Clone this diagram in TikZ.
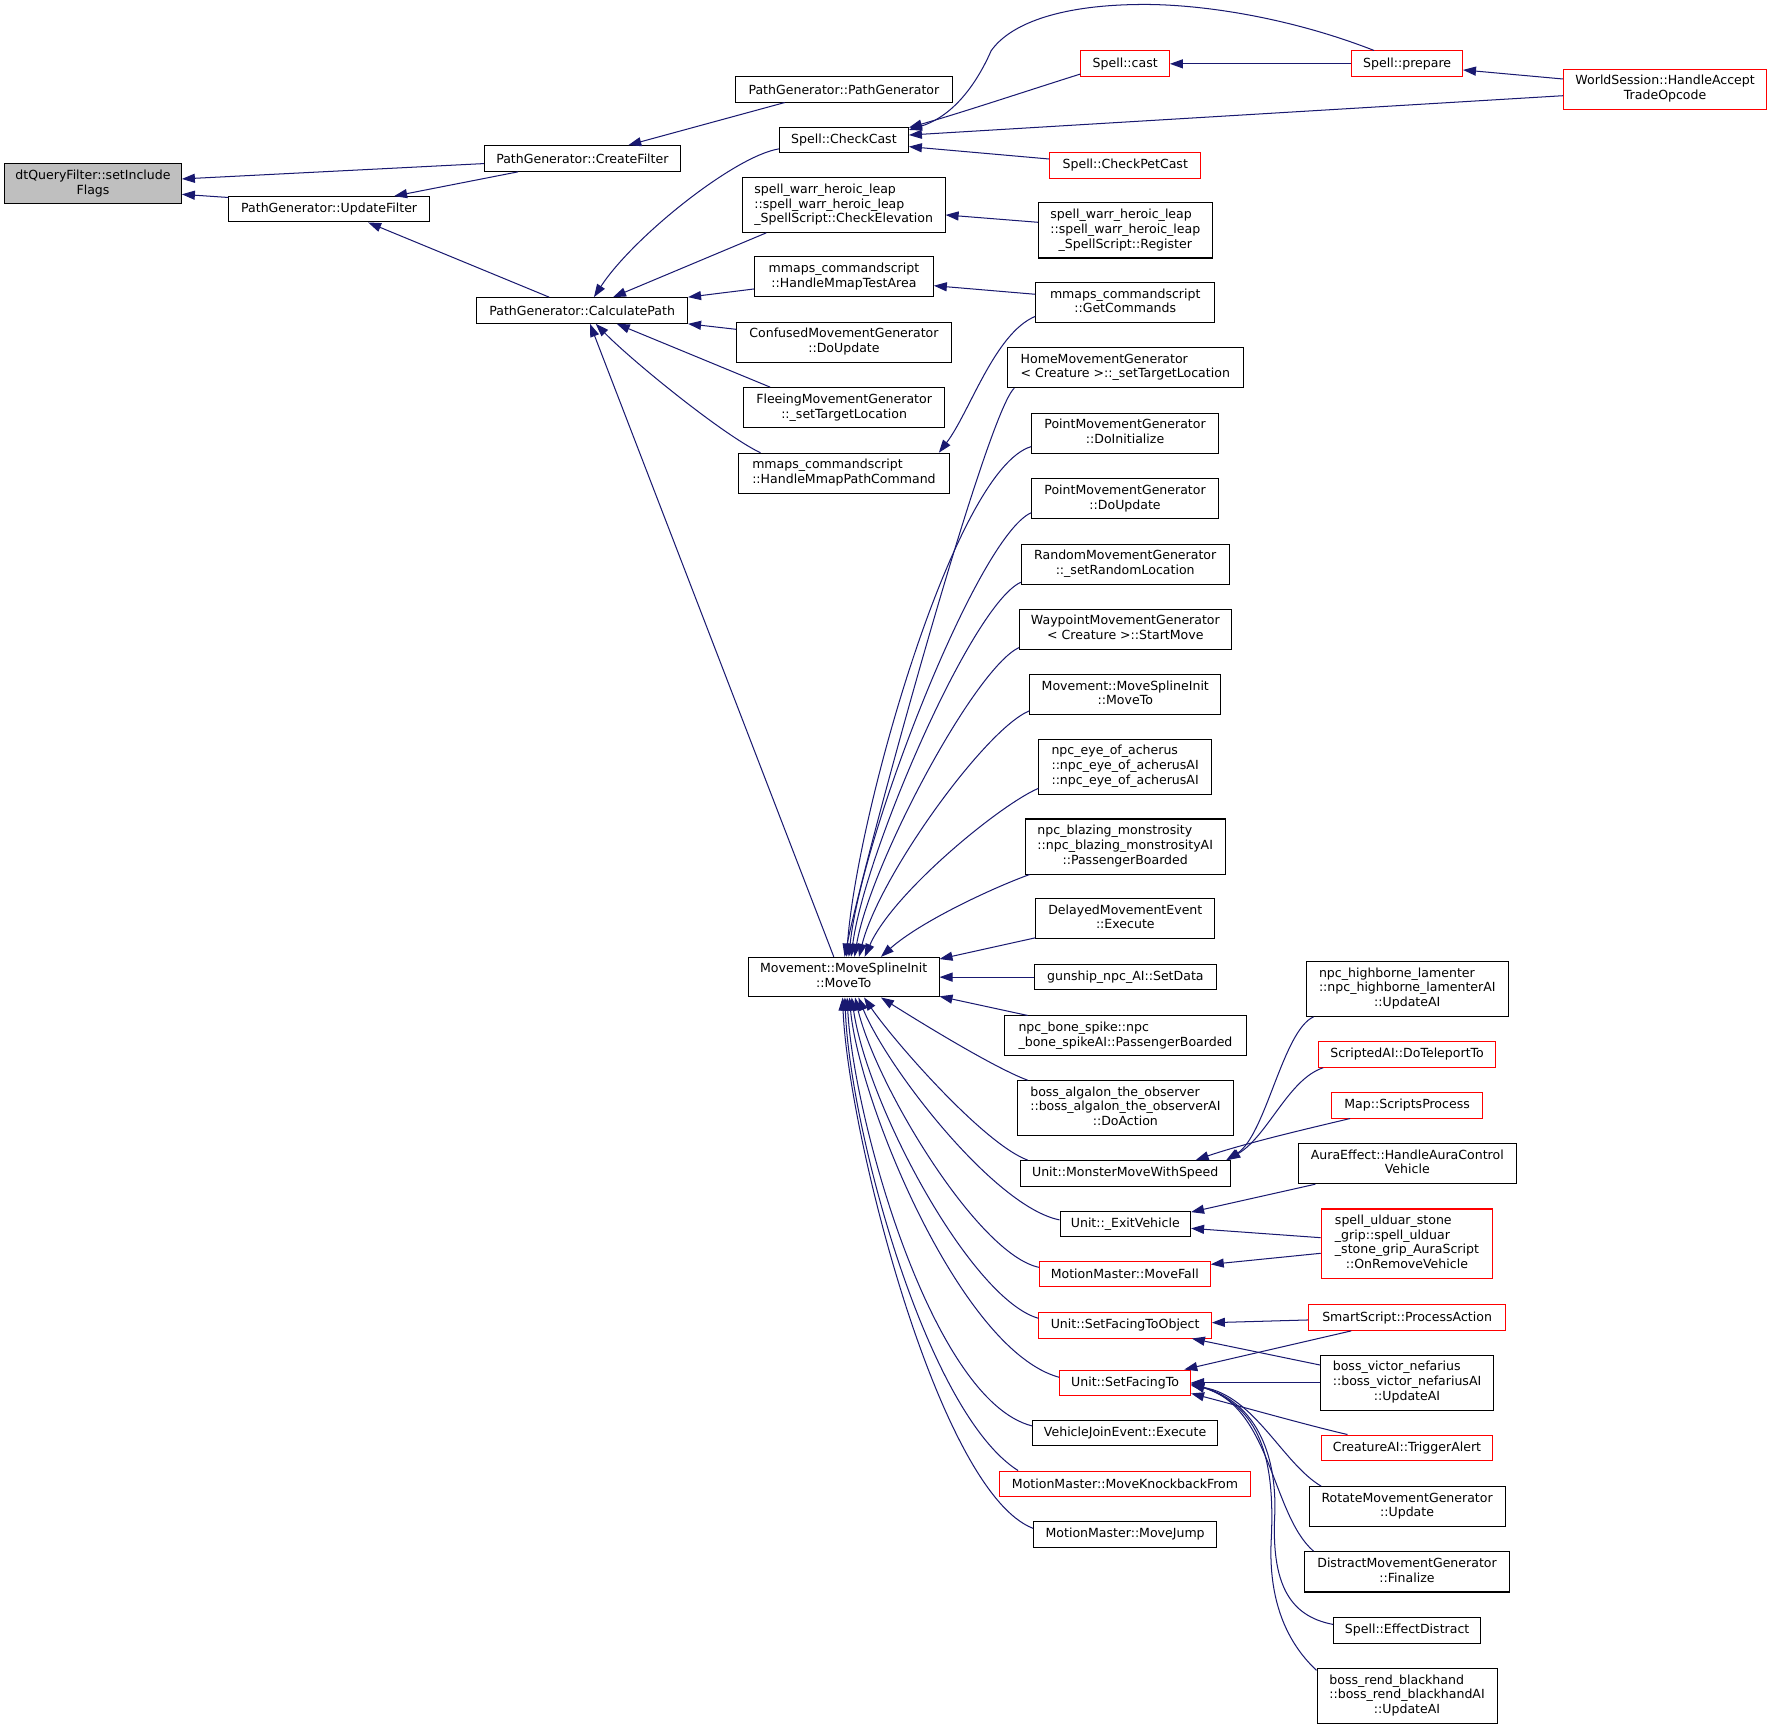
\documentclass[tikz,border=0pt]{standalone}
\usepackage{fontspec}
\setmainfont{DejaVu Sans}
\usetikzlibrary{arrows.meta,calc}
\definecolor{edgecol}{HTML}{191970}
\newcommand{\mlbox}[1]{\begin{tabular}{@{}l@{}}#1\end{tabular}}
\newcommand{\lastc}[1]{\multicolumn{1}{@{}c@{}}{#1}}
\tikzset{
 box/.style={draw=black, line width=0.9pt, fill=white, inner sep=0pt, font=\fontsize{11.1}{13}\selectfont},
 rbox/.style={box, draw=red},
 cedge/.style={draw=edgecol, line width=0.9pt, -{Triangle[length=11.5pt,width=8pt]}},
}
\begin{document}
\begin{tikzpicture}[x=1pt,y=-1pt]
\fill[white] (0,0) rectangle (1568,1530);
\useasboundingbox (0,0) rectangle (1568,1530);
% column 1
\node[box,fill=black!25,minimum width=156.4pt,minimum height=35.7pt] (dtq) at (82.3,162.65) {\mlbox{dtQueryFilter::setInclude\\\lastc{Flags}}};
\node[box,minimum width=177.5pt,minimum height=22.4pt] (updateF) at (291.25,185.2) {PathGenerator::UpdateFilter};
\node[box,minimum width=173.3pt,minimum height=22.7pt] (createF) at (515.35,140.25) {PathGenerator::CreateFilter};
\node[box,minimum width=186.5pt,minimum height=22.7pt] (calc) at (515.15,274.75) {PathGenerator::CalculatePath};
% column 2
\node[box,minimum width=191.3pt,minimum height=22.4pt] (pgpg) at (746.75,79.1) {PathGenerator::PathGenerator};
\node[box,minimum width=114.1pt,minimum height=22.7pt] (checkcast) at (746.75,123.75) {Spell::CheckCast};
\node[box,minimum width=179.5pt,minimum height=48.1pt] (elev) at (746.55,181.55) {\mlbox{spell\_warr\_heroic\_leap\\::spell\_warr\_heroic\_leap\\\lastc{\_SpellScript::CheckElevation}}};
\node[box,minimum width=158.2pt,minimum height=35.4pt] (testarea) at (746.8,245.1) {\mlbox{mmaps\_commandscript\\\lastc{::HandleMmapTestArea}}};
\node[box,minimum width=190pt,minimum height=35.4pt] (confused) at (746.8,302.9) {\mlbox{ConfusedMovementGenerator\\\lastc{::DoUpdate}}};
\node[box,minimum width=177.5pt,minimum height=35.7pt] (fleeing) at (746.95,360.85) {\mlbox{FleeingMovementGenerator\\\lastc{::\_setTargetLocation}}};
\node[box,minimum width=186.6pt,minimum height=35.2pt] (pathcmd) at (746.8,418.7) {\mlbox{mmaps\_commandscript\\\lastc{::HandleMmapPathCommand}}};
\node[box,minimum width=168.6pt,minimum height=35.1pt] (mvto) at (746.6,864.65) {\mlbox{Movement::MoveSplineInit\\\lastc{::MoveTo}}};
% column 3
\node[rbox,minimum width=78.3pt,minimum height=22.8pt] (cast) at (995.65,56.5) {Spell::cast};
\node[rbox,minimum width=133.8pt,minimum height=22.7pt] (petcast) at (995.7,146.45) {Spell::CheckPetCast};
\node[box,minimum width=153.7pt,minimum height=48.7pt] (register) at (995.75,203.95) {\mlbox{spell\_warr\_heroic\_leap\\::spell\_warr\_heroic\_leap\\\lastc{\_SpellScript::Register}}};
\node[box,minimum width=158.4pt,minimum height=35.4pt] (getcmd) at (995.7,267.8) {\mlbox{mmaps\_commandscript\\\lastc{::GetCommands}}};
\node[box,minimum width=209.1pt,minimum height=35.4pt] (home) at (995.75,325.3) {\mlbox{HomeMovementGenerator\\\lastc{< Creature >::\_setTargetLocation}}};
\node[box,minimum width=165.3pt,minimum height=35.4pt] (ptinit) at (995.55,383.4) {\mlbox{PointMovementGenerator\\\lastc{::DoInitialize}}};
\node[box,minimum width=165.3pt,minimum height=35.4pt] (ptupd) at (995.55,441.3) {\mlbox{PointMovementGenerator\\\lastc{::DoUpdate}}};
\node[box,minimum width=183.9pt,minimum height=35.4pt] (random) at (995.65,499.1) {\mlbox{RandomMovementGenerator\\\lastc{::\_setRandomLocation}}};
\node[box,minimum width=187.6pt,minimum height=35.4pt] (waypoint) at (995.8,556.9) {\mlbox{WaypointMovementGenerator\\\lastc{< Creature >::StartMove}}};
\node[box,minimum width=169.1pt,minimum height=35.1pt] (mvtob) at (995.75,614.55) {\mlbox{Movement::MoveSplineInit\\\lastc{::MoveTo}}};
\node[box,minimum width=152.6pt,minimum height=48.4pt] (eye) at (995.6,678.4) {\mlbox{npc\_eye\_of\_acherus\\::npc\_eye\_of\_acherusAI\\\lastc{::npc\_eye\_of\_acherusAI}}};
\node[box,minimum width=177.1pt,minimum height=48.7pt] (blazing) at (995.65,749.05) {\mlbox{npc\_blazing\_monstrosity\\::npc\_blazing\_monstrosityAI\\\lastc{::PassengerBoarded}}};
\node[box,minimum width=158.3pt,minimum height=35.7pt] (delayed) at (995.75,812.75) {\mlbox{DelayedMovementEvent\\\lastc{::Execute}}};
\node[box,minimum width=161.6pt,minimum height=22.7pt] (gunship) at (995.8,864.65) {gunship\_npc\_AI::SetData};
\node[box,minimum width=213.4pt,minimum height=35.4pt] (bonespike) at (995.9,916.7) {\mlbox{npc\_bone\_spike::npc\\\lastc{\_bone\_spikeAI::PassengerBoarded}}};
\node[box,minimum width=190.8pt,minimum height=48.3pt] (algalon) at (995.8,980.45) {\mlbox{boss\_algalon\_the\_observer\\::boss\_algalon\_the\_observerAI\\\lastc{::DoAction}}};
\node[box,minimum width=185.9pt,minimum height=22.5pt] (monster) at (995.65,1038.25) {Unit::MonsterMoveWithSpeed};
\node[box,minimum width=115.5pt,minimum height=22.7pt] (exitveh) at (995.75,1082.95) {Unit::\_ExitVehicle};
\node[rbox,minimum width=151.2pt,minimum height=22.4pt] (movefall) at (995.3,1127.6) {MotionMaster::MoveFall};
\node[rbox,minimum width=152.6pt,minimum height=22.5pt] (facingobj) at (995.6,1172.75) {Unit::SetFacingToObject};
\node[rbox,minimum width=115.9pt,minimum height=22.4pt] (facingto) at (995.55,1223.5) {Unit::SetFacingTo};
\node[box,minimum width=163.3pt,minimum height=22.7pt] (vehjoin) at (995.55,1268.15) {VehicleJoinEvent::Execute};
\node[rbox,minimum width=222.2pt,minimum height=22.7pt] (knockback) at (995.5,1313.05) {MotionMaster::MoveKnockbackFrom};
\node[box,minimum width=162pt,minimum height=22.4pt] (movejump) at (995.6,1357.7) {MotionMaster::MoveJump};
% column 4
\node[rbox,minimum width=97.9pt,minimum height=22.8pt] (prepare) at (1245.15,56.5) {Spell::prepare};
\node[box,minimum width=178.3pt,minimum height=48.3pt] (highborne) at (1245.25,875.15) {\mlbox{npc\_highborne\_lamenter\\::npc\_highborne\_lamenterAI\\\lastc{::UpdateAI}}};
\node[rbox,minimum width=156pt,minimum height=22.6pt] (teleport) at (1245.1,933.1) {ScriptedAI::DoTeleportTo};
\node[rbox,minimum width=134pt,minimum height=22.7pt] (scriptsproc) at (1245.1,977.95) {Map::ScriptsProcess};
\node[box,minimum width=192.5pt,minimum height=35.4pt] (auraeffect) at (1245.25,1029.7) {\mlbox{AuraEffect::HandleAuraControl\\\lastc{Vehicle}}};
\node[rbox,minimum width=151.7pt,minimum height=61.3pt] (ulduar) at (1244.95,1100.45) {\mlbox{spell\_ulduar\_stone\\\_grip::spell\_ulduar\\\_stone\_grip\_AuraScript\\\lastc{::OnRemoveVehicle}}};
\node[rbox,minimum width=174.6pt,minimum height=22.7pt] (smartscript) at (1245.1,1165.85) {SmartScript::ProcessAction};
\node[box,minimum width=152.7pt,minimum height=48.4pt] (victor) at (1245.05,1223.5) {\mlbox{boss\_victor\_nefarius\\::boss\_victor\_nefariusAI\\\lastc{::UpdateAI}}};
\node[rbox,minimum width=151.7pt,minimum height=22.7pt] (trigger) at (1244.95,1281.15) {CreatureAI::TriggerAlert};
\node[box,minimum width=173.4pt,minimum height=35.4pt] (rotate) at (1245.1,1333.2) {\mlbox{RotateMovementGenerator\\\lastc{::Update}}};
\node[box,minimum width=182.1pt,minimum height=35.7pt] (distract) at (1245.05,1390.85) {\mlbox{DistractMovementGenerator\\\lastc{::Finalize}}};
\node[box,minimum width=130pt,minimum height=22.5pt] (effdistract) at (1245.1,1442.65) {Spell::EffectDistract};
\node[box,minimum width=159.3pt,minimum height=48.5pt] (rend) at (1245.05,1500.75) {\mlbox{boss\_rend\_blackhand\\::boss\_rend\_blackhandAI\\\lastc{::UpdateAI}}};
% column 5
\node[rbox,minimum width=179.8pt,minimum height=35.4pt] (worldsession) at (1473.4,78.8) {\mlbox{WorldSession::HandleAccept\\\lastc{TradeOpcode}}};

% edges, left part
\draw[cedge] ($(createF.west)+(0,4.5)$) -- ($(dtq.east)+(0,-4.3)$);
\draw[cedge] ($(updateF.north west)+(0,1.2)$) -- ($(dtq.east)+(0,9.3)$);
\draw[cedge] ($(pgpg.south west)+(43.7,0)$) -- ($(createF.north)+(40.6,0)$);
\draw[cedge] ($(createF.south west)+(30.2,0)$) -- ($(updateF.north)+(57.5,0)$);
\draw[cedge] ($(calc.north)+(-29.2,0)$) -- ($(updateF.south)+(34.5,0)$);
\draw[cedge] ($(checkcast.west)+(0,8)$) .. controls (650,138) and (560,210) .. ($(calc.north)+(10.4,0)$);
\draw[cedge] ($(elev.south west)+(21.7,0)$) -- ($(calc.north)+(27.3,0)$);
\draw[cedge] ($(testarea.west)+(0,10.6)$) -- (calc.north east);
\draw[cedge] ($(confused.west)+(0,-11.5)$) -- (calc.south east);
\draw[cedge] ($(fleeing.north west)+(23.7,0)$) -- ($(calc.south)+(30.6,0)$);
\draw[cedge] ($(pathcmd.north west)+(19.9,0)$) .. controls (640,385) and (560,320) .. ($(calc.south)+(12,0)$);
\draw[cedge] ($(mvto.north)+(-8.8,0)$) -- ($(calc.south)+(6.9,0)$);
% spell edges
\draw[cedge] ($(cast.west)+(0,9)$) .. controls (910,80) and (850,100) .. ($(checkcast.north east)+(0,1)$);
\draw[cedge] ($(prepare.north west)+(20.1,0)$) .. controls (1140,15) and (1060,3) .. (1006,4) .. controls (935,5) and (893,22) .. (877,45) .. controls (866,70) and (846,102) .. ($(checkcast.east)+(0,-8.75)$);
\draw[cedge] (prepare.west) -- (cast.east);
\draw[cedge] ($(worldsession.west)+(0,-8.9)$) -- ($(prepare.east)+(0,5.4)$);
\draw[cedge] ($(worldsession.west)+(0,5.9)$) -- ($(checkcast.east)+(0,-4.25)$);
\draw[cedge] ($(petcast.west)+(0,-5.75)$) -- ($(checkcast.east)+(0,6)$);
\draw[cedge] ($(register.west)+(0,-7.25)$) -- ($(elev.east)+(0,8.65)$);
\draw[cedge] ($(getcmd.west)+(0,-7.4)$) -- ($(testarea.east)+(0,7.7)$);
\draw[cedge] ($(getcmd.south west)+(0,-6)$) .. controls (880,295) and (858,365) .. ($(pathcmd.north east)+(-9.8,0)$);
% into MoveSplineInit from above
\draw[cedge] ($(home.south west)+(6.8,0)$) .. controls (873,365) and (765,760) .. ($(mvto.north)+(0.7,0)$);
\draw[cedge] ($(ptinit.west)+(0,11.8)$) .. controls (845,415) and (758,720) .. ($(mvto.north)+(2.5,0)$);
\draw[cedge] ($(ptupd.west)+(0,12.4)$) .. controls (865,475) and (762,740) .. ($(mvto.north)+(4.5,0)$);
\draw[cedge] ($(random.south west)+(0,-2)$) .. controls (860,535) and (765,755) .. ($(mvto.north)+(6.5,0)$);
\draw[cedge] ($(waypoint.south west)+(0,-2)$) .. controls (862,592) and (770,765) .. ($(mvto.north)+(9.5,0)$);
\draw[cedge] ($(mvtob.west)+(0,14.5)$) .. controls (872,645) and (778,775) .. ($(mvto.north)+(13.5,0)$);
\draw[cedge] ($(eye.west)+(0,19.2)$) .. controls (885,712) and (790,790) .. ($(mvto.north)+(18.5,0)$);
\draw[cedge] ($(blazing.south west)+(4.4,0)$) .. controls (880,785) and (815,815) .. ($(mvto.north)+(32.9,0)$);
\draw[cedge] ($(delayed.south west)+(0,-1.2)$) -- ($(mvto.north east)+(0,2)$);
\draw[cedge] (gunship.west) -- (mvto.east);
\draw[cedge] ($(bonespike.north west)+(20.6,0)$) -- ($(mvto.south east)+(0,-1)$);
% into MoveSplineInit from below
\draw[cedge] ($(algalon.north west)+(9.4,0)$) .. controls (880,945) and (815,905) .. ($(mvto.south)+(32.9,0)$);
\draw[cedge] ($(monster.north west)+(7.1,0)$) .. controls (870,1012) and (790,920) .. ($(mvto.south)+(18,0)$);
\draw[cedge] ($(exitveh.west)+(0,-3.5)$) .. controls (880,1068) and (785,945) .. ($(mvto.south)+(13,0)$);
\draw[cedge] ($(movefall.west)+(0,-6.2)$) .. controls (865,1110) and (775,960) .. ($(mvto.south)+(10,0)$);
\draw[cedge] ($(facingobj.west)+(0,-6.25)$) .. controls (860,1150) and (768,980) .. ($(mvto.south)+(7,0)$);
\draw[cedge] ($(facingto.west)+(0,-4.8)$) .. controls (850,1195) and (760,975) .. ($(mvto.south)+(5,0)$);
\draw[cedge] ($(vehjoin.west)+(0,-6.35)$) .. controls (825,1240) and (755,990) .. ($(mvto.south)+(3,0)$);
\draw[cedge] ($(knockback.north west)+(16.9,0)$) .. controls (820,1250) and (752,1000) .. ($(mvto.south)+(1,0)$);
\draw[cedge] ($(movejump.west)+(0,-5.3)$) .. controls (830,1320) and (750,1000) .. ($(mvto.south)+(-1,0)$);
% right part
\draw[cedge] ($(highborne.south west)+(6.7,0)$) .. controls (1135,912) and (1120,1005) .. ($(monster.north east)+(-4,0)$);
\draw[cedge] ($(teleport.south west)+(4.1,0)$) .. controls (1140,955) and (1122,1005) .. ($(monster.north east)+(-3,0)$);
\draw[cedge] ($(scriptsproc.south west)+(17,0)$) .. controls (1160,998) and (1100,1012) .. ($(monster.north east)+(-31,0)$);
\draw[cedge] ($(auraeffect.south west)+(15.4,0)$) -- ($(exitveh.north east)+(0,1.4)$);
\draw[cedge] ($(ulduar.west)+(0,-5.25)$) -- ($(exitveh.east)+(0,4)$);
\draw[cedge] ($(ulduar.west)+(0,8.55)$) -- ($(movefall.east)+(0,-8.8)$);
\draw[cedge] ($(smartscript.west)+(0,2.15)$) -- ($(facingobj.east)+(0,-2.35)$);
\draw[cedge] ($(victor.west)+(0,-15.6)$) -- ($(facingobj.south east)+(-17.7,0)$);
\draw[cedge] ($(smartscript.south west)+(38.4,0)$) -- ($(facingto.north east)+(-6,0)$);
\draw[cedge] (victor.west) -- (facingto.east);
\draw[cedge] ($(trigger.north west)+(23.7,0)$) .. controls (1160,1262) and (1100,1245) .. ($(facingto.east)+(0,9.5)$);
\draw[cedge] ($(rotate.north west)+(11.1,0)$) .. controls (1135,1295) and (1110,1235) .. ($(facingto.east)+(0,2.5)$);
\draw[cedge] ($(distract.north west)+(8.7,0)$) .. controls (1125,1340) and (1125,1245) .. ($(facingto.east)+(0,1)$);
\draw[cedge] ($(effdistract.west)+(0,-5.25)$) .. controls (1140,1430) and (1125,1400) .. (1128,1340) .. controls (1130,1285) and (1110,1240) .. ($(facingto.east)+(0,1.5)$);
\draw[cedge] ($(rend.north west)+(0,2)$) .. controls (1135,1450) and (1122,1410) .. (1125,1360) .. controls (1128,1290) and (1115,1245) .. ($(facingto.east)+(0,0.5)$);
\end{tikzpicture}
\end{document}
